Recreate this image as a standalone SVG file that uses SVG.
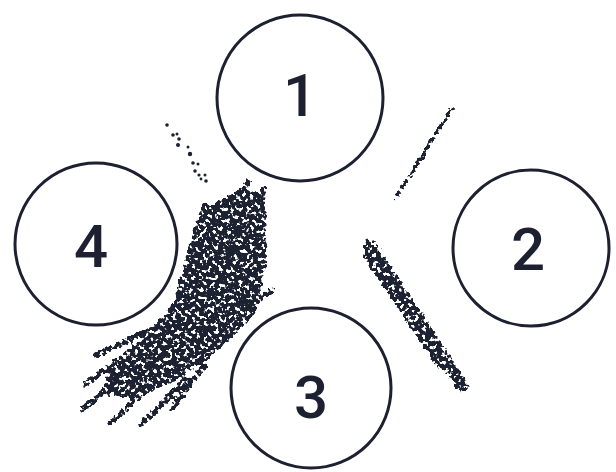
<svg xmlns="http://www.w3.org/2000/svg" width="616" height="472" viewBox="0 0 616 472">
<style>
.c{fill:none;stroke:#1d2030;stroke-width:3}
.n{font-family:Roboto,"Liberation Sans",sans-serif;font-weight:500;font-size:60px;fill:#1d2030;text-anchor:middle}
.s{stroke:#000;stroke-linecap:round;fill:none}
</style>
<defs>
<filter id="stip" x="0" y="0" width="616" height="472" filterUnits="userSpaceOnUse">
<feTurbulence type="fractalNoise" baseFrequency="0.26" numOctaves="2" seed="7" result="t"/>
<feColorMatrix in="t" type="matrix" values="0 0 0 0 0  0 0 0 0 0  0 0 0 0 0  1 0 0 0 0" result="na"/>
<feGaussianBlur in="SourceAlpha" stdDeviation="1.4" result="b"/>
<feComposite in="na" in2="b" operator="arithmetic" k1="0" k2="1" k3="0.6" k4="-0.97" result="s"/>
<feComponentTransfer in="s" result="th"><feFuncA type="linear" slope="14" intercept="0"/></feComponentTransfer>
<feFlood flood-color="#1d2030" result="f"/>
<feComposite in="f" in2="th" operator="in"/>
</filter>
</defs>
<rect width="616" height="472" fill="#fff"/>
<g id="stipple" filter="url(#stip)">
<polygon points="198,212 238,188 266,192 268,260 256,315 218,352 175,382 135,400 100,395 110,365 145,336 172,302 186,252" fill="#000"/>
<g class="s" stroke-width="8">
<line x1="206" y1="240" x2="205" y2="205"/>
<line x1="222" y1="232" x2="248" y2="182"/>
<line x1="240" y1="232" x2="264" y2="188"/>
<line x1="140" y1="360" x2="82" y2="410"/>
<line x1="160" y1="375" x2="110" y2="424"/>
<line x1="185" y1="380" x2="142" y2="424"/>
<line x1="205" y1="365" x2="172" y2="408"/>
<line x1="140" y1="345" x2="84" y2="385"/>
<line x1="150" y1="330" x2="96" y2="355"/>
<line x1="258" y1="300" x2="272" y2="290"/>
</g>
<line class="s" x1="396" y1="198" x2="452" y2="108" stroke-width="6"/>
<line class="s" x1="370" y1="246" x2="462" y2="386" stroke-width="15"/>
<line class="s" x1="364" y1="255" x2="440" y2="368" stroke-width="6"/>
</g>
<g id="dots" fill="#1d2030">
<circle cx="167" cy="125" r="1.8"/>
<circle cx="173" cy="135" r="1.8"/>
<circle cx="177" cy="134" r="1.5"/>
<circle cx="179" cy="139" r="1.8"/>
<circle cx="178" cy="145" r="2"/>
<circle cx="188" cy="147" r="1.5"/>
<circle cx="190" cy="154" r="2.2"/>
<circle cx="193" cy="163" r="1.8"/>
<circle cx="198" cy="164" r="1.5"/>
<circle cx="195" cy="171" r="1.8"/>
<circle cx="199" cy="175" r="1.6"/>
<circle cx="205" cy="175" r="1.5"/>
<circle cx="206" cy="181" r="1.8"/>
<circle cx="201" cy="179" r="1.4"/>
</g>
<g id="node1"><circle class="c" cx="300" cy="98" r="83"/><text class="n" x="300" y="116">1</text></g>
<g id="node2"><circle class="c" cx="531" cy="248" r="78"/><text class="n" x="528" y="270">2</text></g>
<g id="node3"><circle class="c" cx="311" cy="388" r="80"/><text class="n" x="311" y="418">3</text></g>
<g id="node4"><circle class="c" cx="96" cy="244" r="81"/><text class="n" x="91" y="267">4</text></g>
</svg>
